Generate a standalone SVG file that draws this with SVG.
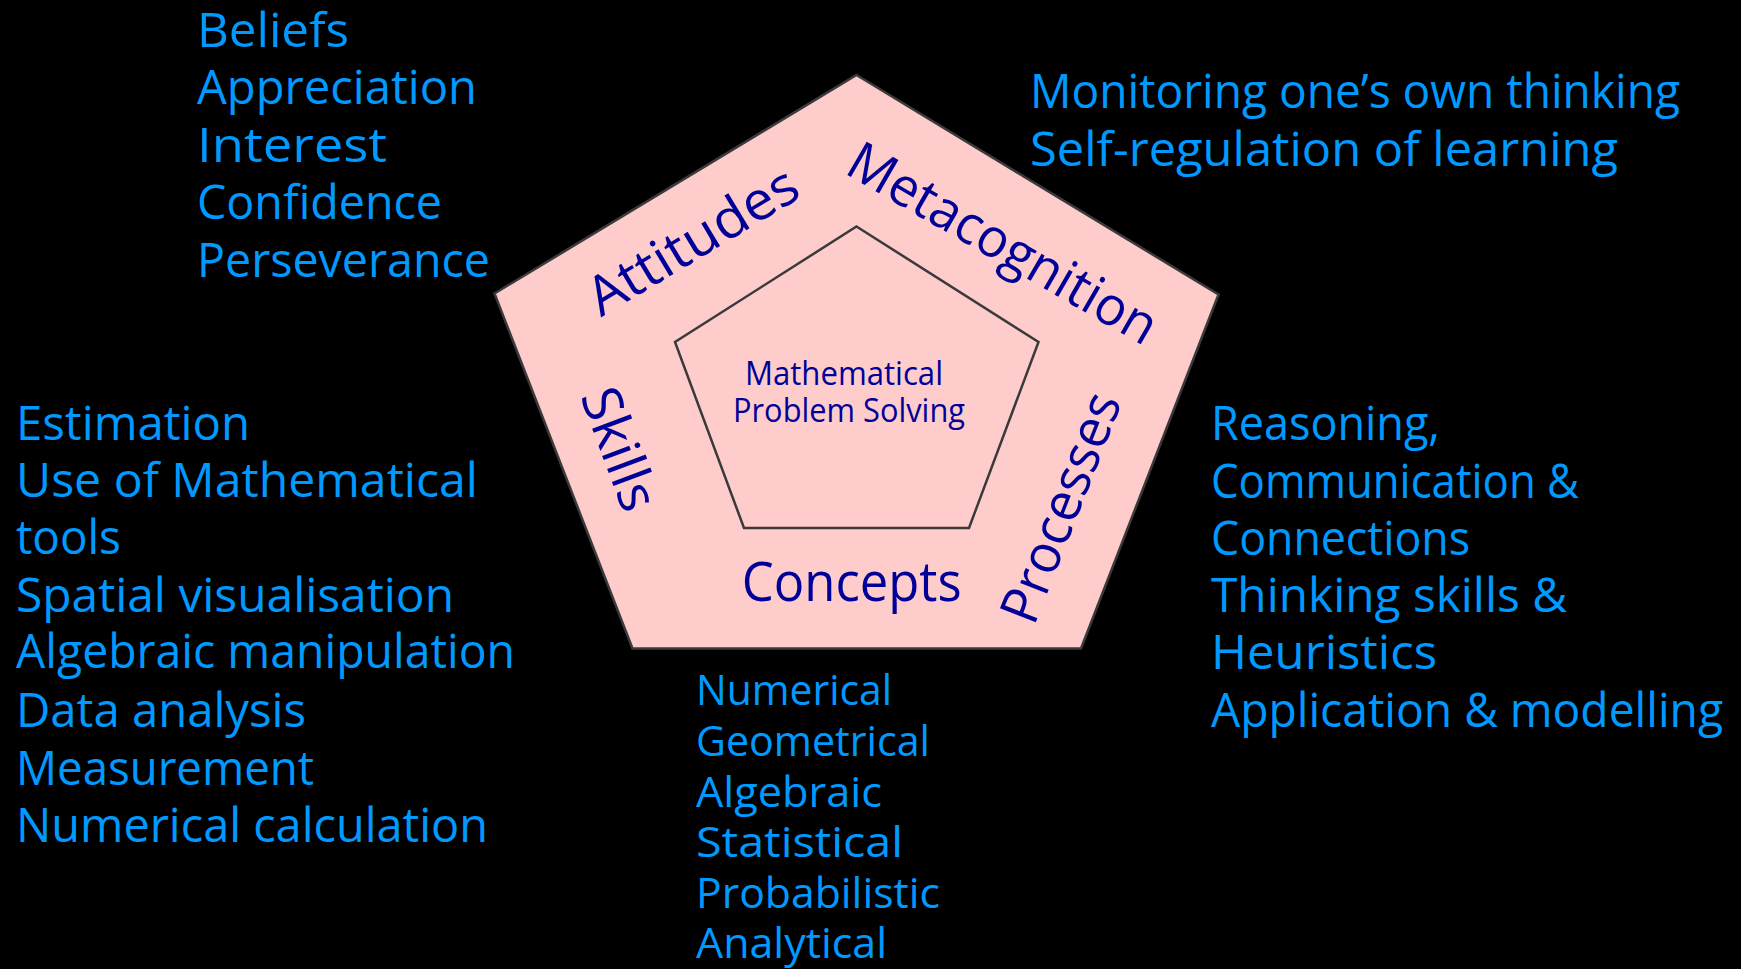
<svg xmlns="http://www.w3.org/2000/svg" width="1741" height="969" viewBox="0 0 1741 969">
<style>
.blue{font-family:"Open Sans","Liberation Sans",sans-serif;fill:#0099FF;font-size:47px}
.blue2{font-family:"Open Sans","Liberation Sans",sans-serif;fill:#0099FF;font-size:42px}
.navy{font-family:"Open Sans","Liberation Sans",sans-serif;fill:#000099;font-size:54px;font-weight:500}
.inner{font-family:"Open Sans","Liberation Sans",sans-serif;fill:#000099;font-size:32px}
.pent{fill:#FFCCCC;stroke:#3a3a3a;stroke-width:2.5;stroke-linejoin:miter}
.pin{fill:none;stroke:#3a3a3a;stroke-width:2.5}
</style>
<rect x="0" y="0" width="1741" height="969" fill="#000000"/>
<g id="outer-pentagon">
<polygon class="pent" points="856.5,75 1218.5,294.5 1081,648.5 632.5,648.5 494.5,293.5"/>
</g>
<g id="inner-pentagon">
<polygon class="pin" points="856.5,226.5 1038.5,342 969,528 744,528 675,342"/>
<text class="inner" x="745" y="385" textLength="198" lengthAdjust="spacingAndGlyphs">Mathematical</text>
<text class="inner" x="733" y="421.7" textLength="232" lengthAdjust="spacingAndGlyphs">Problem Solving</text>
</g>
<g id="label-attitudes">
<text class="navy" transform="translate(601,317.5) rotate(-31)" x="0" y="0" textLength="236" lengthAdjust="spacingAndGlyphs">Attitudes</text>
</g>
<g id="label-metacognition">
<text class="navy" transform="translate(843,172.5) rotate(30)" x="0" y="0" textLength="348" lengthAdjust="spacingAndGlyphs">Metacognition</text>
</g>
<g id="label-skills">
<text class="navy" transform="translate(580,396) rotate(69.6)" x="0" y="0" textLength="127" lengthAdjust="spacingAndGlyphs">Skills</text>
</g>
<g id="label-processes">
<text class="navy" transform="translate(1034,627) rotate(-68.6)" x="0" y="0" textLength="242" lengthAdjust="spacingAndGlyphs">Processes</text>
</g>
<g id="label-concepts">
<text class="navy" x="741.7" y="601" textLength="220" lengthAdjust="spacingAndGlyphs">Concepts</text>
</g>
<g id="list-attitudes">
<text class="blue" x="197" y="46.7" textLength="152" lengthAdjust="spacingAndGlyphs">Beliefs</text>
<text class="blue" x="197" y="104" textLength="280" lengthAdjust="spacingAndGlyphs">Appreciation</text>
<text class="blue" x="197" y="161.7" textLength="190" lengthAdjust="spacingAndGlyphs">Interest</text>
<text class="blue" x="197" y="219.3" textLength="245" lengthAdjust="spacingAndGlyphs">Confidence</text>
<text class="blue" x="197" y="276.7" textLength="293" lengthAdjust="spacingAndGlyphs">Perseverance</text>
</g>
<g id="list-metacognition">
<text class="blue" x="1030" y="108" textLength="650" lengthAdjust="spacingAndGlyphs">Monitoring one’s own thinking</text>
<text class="blue" x="1030" y="165.5" textLength="588" lengthAdjust="spacingAndGlyphs">Self-regulation of learning</text>
</g>
<g id="list-skills">
<text class="blue" x="16" y="440" textLength="234" lengthAdjust="spacingAndGlyphs">Estimation</text>
<text class="blue" x="16" y="497.3" textLength="462" lengthAdjust="spacingAndGlyphs">Use of Mathematical</text>
<text class="blue" x="16" y="554" textLength="105" lengthAdjust="spacingAndGlyphs">tools</text>
<text class="blue" x="16" y="611.7" textLength="438" lengthAdjust="spacingAndGlyphs">Spatial visualisation</text>
<text class="blue" x="16" y="668.3" textLength="499" lengthAdjust="spacingAndGlyphs">Algebraic manipulation</text>
<text class="blue" x="16" y="726.7" textLength="290" lengthAdjust="spacingAndGlyphs">Data analysis</text>
<text class="blue" x="16" y="785" textLength="298" lengthAdjust="spacingAndGlyphs">Measurement</text>
<text class="blue" x="16" y="841.7" textLength="472" lengthAdjust="spacingAndGlyphs">Numerical calculation</text>
</g>
<g id="list-processes">
<text class="blue" x="1211" y="440" textLength="229" lengthAdjust="spacingAndGlyphs">Reasoning,</text>
<text class="blue" x="1211" y="498" textLength="368" lengthAdjust="spacingAndGlyphs">Communication &amp;</text>
<text class="blue" x="1211" y="555" textLength="259" lengthAdjust="spacingAndGlyphs">Connections</text>
<text class="blue" x="1211" y="612" textLength="356" lengthAdjust="spacingAndGlyphs">Thinking skills &amp;</text>
<text class="blue" x="1211" y="669" textLength="226" lengthAdjust="spacingAndGlyphs">Heuristics</text>
<text class="blue" x="1211" y="727" textLength="512" lengthAdjust="spacingAndGlyphs">Application &amp; modelling</text>
</g>
<g id="list-concepts">
<text class="blue2" x="696" y="705" textLength="196" lengthAdjust="spacingAndGlyphs">Numerical</text>
<text class="blue2" x="696" y="756" textLength="234" lengthAdjust="spacingAndGlyphs">Geometrical</text>
<text class="blue2" x="696" y="806.7" textLength="186" lengthAdjust="spacingAndGlyphs">Algebraic</text>
<text class="blue2" x="696" y="856.7" textLength="207" lengthAdjust="spacingAndGlyphs">Statistical</text>
<text class="blue2" x="696" y="908" textLength="244" lengthAdjust="spacingAndGlyphs">Probabilistic</text>
<text class="blue2" x="696" y="958" textLength="191" lengthAdjust="spacingAndGlyphs">Analytical</text>
</g>
<g id="connectors"></g>
</svg>
